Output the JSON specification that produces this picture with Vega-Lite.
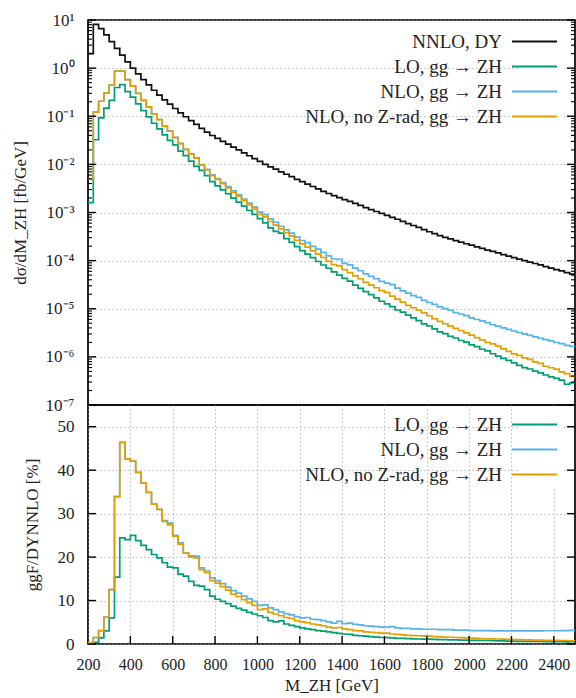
{
  "$schema": "https://vega.github.io/schema/vega-lite/v6.json",
  "padding": {"left": 10, "top": 10, "right": 0, "bottom": 2},
  "background": "white",
  "bounds": "flush",
  "config": {
    "font": "Liberation Serif",
    "view": {"stroke": "#000", "strokeWidth": 1.7},
    "axis": {
      "labelFont": "Liberation Serif", "titleFont": "Liberation Serif",
      "labelFontSize": 17, "titleFontSize": 17, "titleFontWeight": "normal",
      "labelColor": "#222", "titleColor": "#222", "domain": false,
      "ticks": false, "labelPadding": 14,
      "gridColor": "#999", "gridDash": [1, 3], "gridWidth": 1
    },
    "legend": {
      "labelFont": "Liberation Serif", "labelFontSize": 19, "labelColor": "#222",
      "symbolType": "M-1.8,0H1.8", "symbolSize": 625, "symbolStrokeWidth": 2,
      "labelAlign": "right", "labelOffset": -46, "labelLimit": 400,
      "rowPadding": 1, "padding": 2, "fillColor": "white", "title": null
    }
  },
  "datasets": {
    "ymaj": [{"t":1e-7},{"t":1e-6},{"t":1e-5},{"t":1e-4},{"t":1e-3},{"t":1e-2},{"t":0.1},{"t":1},{"t":10}],
    "ymin": [{"t":2e-7},{"t":3e-7},{"t":4e-7},{"t":5e-7},{"t":6e-7},{"t":7e-7},{"t":8e-7},{"t":9e-7},
             {"t":2e-6},{"t":3e-6},{"t":4e-6},{"t":5e-6},{"t":6e-6},{"t":7e-6},{"t":8e-6},{"t":9e-6},
             {"t":2e-5},{"t":3e-5},{"t":4e-5},{"t":5e-5},{"t":6e-5},{"t":7e-5},{"t":8e-5},{"t":9e-5},
             {"t":2e-4},{"t":3e-4},{"t":4e-4},{"t":5e-4},{"t":6e-4},{"t":7e-4},{"t":8e-4},{"t":9e-4},
             {"t":0.002},{"t":0.003},{"t":0.004},{"t":0.005},{"t":0.006},{"t":0.007},{"t":0.008},{"t":0.009},
             {"t":0.02},{"t":0.03},{"t":0.04},{"t":0.05},{"t":0.06},{"t":0.07},{"t":0.08},{"t":0.09},
             {"t":0.2},{"t":0.3},{"t":0.4},{"t":0.5},{"t":0.6},{"t":0.7},{"t":0.8},{"t":0.9},
             {"t":2},{"t":3},{"t":4},{"t":5},{"t":6},{"t":7},{"t":8},{"t":9}],
    "pmaj": [{"t":0},{"t":10},{"t":20},{"t":30},{"t":40},{"t":50}],
    "xmaj": [{"t":400},{"t":600},{"t":800},{"t":1000},{"t":1200},{"t":1400},{"t":1600},{"t":1800},{"t":2000},{"t":2200},{"t":2400}],
    "d": [
      {"m":200,"dy":2.0,"lo":0.0016,"nlo":0.005,"nz":0.005,"rlo":0.08,"rnlo":0.25,"rnz":0.25},
      {"m":225,"dy":8.13,"lo":0.0325,"nlo":0.122,"nz":0.122,"rlo":0.4,"rnlo":1.5,"rnz":1.5},
      {"m":250,"dy":6.61,"lo":0.0925,"nlo":0.205,"nz":0.205,"rlo":1.4,"rnlo":3.1,"rnz":3.1},
      {"m":275,"dy":4.90,"lo":0.147,"nlo":0.304,"nz":0.304,"rlo":3.0,"rnlo":6.2,"rnz":6.2},
      {"m":300,"dy":3.55,"lo":0.213,"nlo":0.444,"nz":0.444,"rlo":6.0,"rnlo":12.5,"rnz":12.5},
      {"m":325,"dy":2.57,"lo":0.396,"nlo":0.871,"nz":0.871,"rlo":15.4,"rnlo":33.9,"rnz":33.9},
      {"m":350,"dy":1.86,"lo":0.454,"nlo":0.863,"nz":0.863,"rlo":24.4,"rnlo":46.4,"rnz":46.4},
      {"m":375,"dy":1.35,"lo":0.324,"nlo":0.575,"nz":0.575,"rlo":24.0,"rnlo":42.6,"rnz":42.6},
      {"m":400,"dy":1.00,"lo":0.250,"nlo":0.421,"nz":0.421,"rlo":25.0,"rnlo":42.1,"rnz":42.1},
      {"m":425,"dy":0.759,"lo":0.181,"nlo":0.300,"nz":0.300,"rlo":23.8,"rnlo":39.5,"rnz":39.5},
      {"m":450,"dy":0.575,"lo":0.131,"nlo":0.213,"nz":0.213,"rlo":22.7,"rnlo":37.0,"rnz":37.0},
      {"m":475,"dy":0.447,"lo":0.0970,"nlo":0.156,"nz":0.156,"rlo":21.7,"rnlo":34.9,"rnz":34.9},
      {"m":500,"dy":0.347,"lo":0.0715,"nlo":0.112,"nz":0.112,"rlo":20.6,"rnlo":32.2,"rnz":32.2},
      {"m":525,"dy":0.275,"lo":0.0545,"nlo":0.0853,"nz":0.0853,"rlo":19.8,"rnlo":31.0,"rnz":31.0},
      {"m":550,"dy":0.219,"lo":0.0410,"nlo":0.0622,"nz":0.0618,"rlo":18.7,"rnlo":28.4,"rnz":28.2},
      {"m":575,"dy":0.178,"lo":0.0315,"nlo":0.0495,"nz":0.0488,"rlo":17.7,"rnlo":27.8,"rnz":27.4},
      {"m":600,"dy":0.145,"lo":0.0254,"nlo":0.0363,"nz":0.0360,"rlo":17.5,"rnlo":25.0,"rnz":24.8},
      {"m":625,"dy":0.117,"lo":0.0188,"nlo":0.0273,"nz":0.0269,"rlo":16.1,"rnlo":23.3,"rnz":23.0},
      {"m":650,"dy":0.0977,"lo":0.0152,"nlo":0.0205,"nz":0.0204,"rlo":15.6,"rnlo":21.0,"rnz":20.9},
      {"m":675,"dy":0.0813,"lo":0.0117,"nlo":0.0165,"nz":0.0163,"rlo":14.4,"rnlo":20.3,"rnz":20.0},
      {"m":700,"dy":0.0676,"lo":0.00913,"nlo":0.0137,"nz":0.0134,"rlo":13.5,"rnlo":20.2,"rnz":19.8},
      {"m":725,"dy":0.0562,"lo":0.00747,"nlo":0.00984,"nz":0.00961,"rlo":13.3,"rnlo":17.5,"rnz":17.1},
      {"m":750,"dy":0.0468,"lo":0.00585,"nlo":0.00786,"nz":0.00768,"rlo":12.5,"rnlo":16.8,"rnz":16.4},
      {"m":775,"dy":0.0398,"lo":0.00438,"nlo":0.00605,"nz":0.00581,"rlo":11.0,"rnlo":15.2,"rnz":14.6},
      {"m":800,"dy":0.0347,"lo":0.00357,"nlo":0.00507,"nz":0.00486,"rlo":10.3,"rnlo":14.6,"rnz":14.0},
      {"m":825,"dy":0.0302,"lo":0.00296,"nlo":0.00420,"nz":0.00399,"rlo":9.8,"rnlo":13.9,"rnz":13.2},
      {"m":850,"dy":0.0263,"lo":0.00245,"nlo":0.00345,"nz":0.00326,"rlo":9.3,"rnlo":13.1,"rnz":12.4},
      {"m":875,"dy":0.0229,"lo":0.00199,"nlo":0.00282,"nz":0.00263,"rlo":8.7,"rnlo":12.3,"rnz":11.5},
      {"m":900,"dy":0.0200,"lo":0.00164,"nlo":0.00234,"nz":0.00218,"rlo":8.2,"rnlo":11.7,"rnz":10.9},
      {"m":925,"dy":0.0174,"lo":0.00136,"nlo":0.00191,"nz":0.00177,"rlo":7.8,"rnlo":11.0,"rnz":10.2},
      {"m":950,"dy":0.0151,"lo":0.00110,"nlo":0.00157,"nz":0.00143,"rlo":7.3,"rnlo":10.4,"rnz":9.5},
      {"m":975,"dy":0.0132,"lo":0.000911,"nlo":0.00129,"nz":0.00117,"rlo":6.9,"rnlo":9.8,"rnz":8.9},
      {"m":1000,"dy":0.0115,"lo":0.000748,"nlo":0.00102,"nz":0.000909,"rlo":6.5,"rnlo":8.9,"rnz":7.9},
      {"m":1025,"dy":0.0100,"lo":0.000610,"nlo":0.000900,"nz":0.000810,"rlo":6.1,"rnlo":9.0,"rnz":8.1},
      {"m":1050,"dy":0.00891,"lo":0.000481,"nlo":0.000740,"nz":0.000650,"rlo":5.4,"rnlo":8.3,"rnz":7.3},
      {"m":1075,"dy":0.00794,"lo":0.000405,"nlo":0.000627,"nz":0.000548,"rlo":5.1,"rnlo":7.9,"rnz":6.9},
      {"m":1100,"dy":0.00700,"lo":0.000371,"nlo":0.000518,"nz":0.000455,"rlo":5.3,"rnlo":7.4,"rnz":6.5},
      {"m":1125,"dy":0.00624,"lo":0.000287,"nlo":0.000437,"nz":0.000381,"rlo":4.6,"rnlo":7.0,"rnz":6.1},
      {"m":1150,"dy":0.00556,"lo":0.000239,"nlo":0.000373,"nz":0.000328,"rlo":4.3,"rnlo":6.7,"rnz":5.9},
      {"m":1175,"dy":0.00490,"lo":0.000196,"nlo":0.000309,"nz":0.000265,"rlo":4.0,"rnlo":6.3,"rnz":5.4},
      {"m":1200,"dy":0.00437,"lo":0.000162,"nlo":0.000262,"nz":0.000223,"rlo":3.7,"rnlo":6.0,"rnz":5.1},
      {"m":1225,"dy":0.00389,"lo":0.000136,"nlo":0.000237,"nz":0.000191,"rlo":3.5,"rnlo":6.1,"rnz":4.9},
      {"m":1250,"dy":0.00347,"lo":0.000115,"nlo":0.000198,"nz":0.000160,"rlo":3.3,"rnlo":5.7,"rnz":4.6},
      {"m":1275,"dy":0.00309,"lo":0.0000958,"nlo":0.000173,"nz":0.000136,"rlo":3.1,"rnlo":5.6,"rnz":4.4},
      {"m":1300,"dy":0.00275,"lo":0.0000811,"nlo":0.000149,"nz":0.000116,"rlo":2.95,"rnlo":5.4,"rnz":4.2},
      {"m":1325,"dy":0.00248,"lo":0.0000694,"nlo":0.000126,"nz":0.0000967,"rlo":2.8,"rnlo":5.1,"rnz":3.9},
      {"m":1350,"dy":0.00224,"lo":0.0000582,"nlo":0.000108,"nz":0.0000829,"rlo":2.6,"rnlo":4.8,"rnz":3.7},
      {"m":1375,"dy":0.00204,"lo":0.0000500,"nlo":0.000106,"nz":0.0000775,"rlo":2.45,"rnlo":5.2,"rnz":3.8},
      {"m":1400,"dy":0.00186,"lo":0.0000428,"nlo":0.0000874,"nz":0.0000651,"rlo":2.3,"rnlo":4.7,"rnz":3.5},
      {"m":1425,"dy":0.00170,"lo":0.0000374,"nlo":0.0000816,"nz":0.0000561,"rlo":2.2,"rnlo":4.8,"rnz":3.3},
      {"m":1450,"dy":0.00155,"lo":0.0000310,"nlo":0.0000698,"nz":0.0000481,"rlo":2.0,"rnlo":4.5,"rnz":3.1},
      {"m":1475,"dy":0.00140,"lo":0.0000266,"nlo":0.0000616,"nz":0.0000420,"rlo":1.9,"rnlo":4.4,"rnz":3.0},
      {"m":1500,"dy":0.00126,"lo":0.0000227,"nlo":0.0000529,"nz":0.0000353,"rlo":1.8,"rnlo":4.2,"rnz":2.8},
      {"m":1525,"dy":0.00115,"lo":0.0000196,"nlo":0.0000472,"nz":0.0000311,"rlo":1.7,"rnlo":4.1,"rnz":2.7},
      {"m":1550,"dy":0.00105,"lo":0.0000168,"nlo":0.0000420,"nz":0.0000273,"rlo":1.6,"rnlo":4.0,"rnz":2.6},
      {"m":1575,"dy":0.000955,"lo":0.0000143,"nlo":0.0000372,"nz":0.0000239,"rlo":1.5,"rnlo":3.9,"rnz":2.5},
      {"m":1600,"dy":0.000871,"lo":0.0000126,"nlo":0.0000340,"nz":0.0000218,"rlo":1.45,"rnlo":3.9,"rnz":2.5},
      {"m":1625,"dy":0.000794,"lo":0.0000111,"nlo":0.0000318,"nz":0.0000183,"rlo":1.4,"rnlo":4.0,"rnz":2.3},
      {"m":1650,"dy":0.000724,"lo":0.00000941,"nlo":0.0000268,"nz":0.0000159,"rlo":1.3,"rnlo":3.7,"rnz":2.2},
      {"m":1675,"dy":0.000653,"lo":0.00000849,"nlo":0.0000235,"nz":0.0000137,"rlo":1.3,"rnlo":3.6,"rnz":2.1},
      {"m":1700,"dy":0.000589,"lo":0.00000736,"nlo":0.0000212,"nz":0.0000118,"rlo":1.25,"rnlo":3.6,"rnz":2.0},
      {"m":1725,"dy":0.000537,"lo":0.00000644,"nlo":0.0000188,"nz":0.0000105,"rlo":1.2,"rnlo":3.5,"rnz":1.95},
      {"m":1750,"dy":0.000490,"lo":0.00000564,"nlo":0.0000172,"nz":0.00000931,"rlo":1.15,"rnlo":3.5,"rnz":1.9},
      {"m":1775,"dy":0.000442,"lo":0.00000486,"nlo":0.0000150,"nz":0.00000818,"rlo":1.1,"rnlo":3.4,"rnz":1.85},
      {"m":1800,"dy":0.000398,"lo":0.00000438,"nlo":0.0000135,"nz":0.00000716,"rlo":1.1,"rnlo":3.4,"rnz":1.8},
      {"m":1825,"dy":0.000363,"lo":0.00000381,"nlo":0.0000123,"nz":0.00000617,"rlo":1.05,"rnlo":3.4,"rnz":1.7},
      {"m":1850,"dy":0.000331,"lo":0.00000331,"nlo":0.0000109,"nz":0.00000546,"rlo":1.0,"rnlo":3.3,"rnz":1.65},
      {"m":1875,"dy":0.000305,"lo":0.00000305,"nlo":0.0000101,"nz":0.00000488,"rlo":1.0,"rnlo":3.3,"rnz":1.6},
      {"m":1900,"dy":0.000282,"lo":0.00000268,"nlo":0.00000931,"nz":0.00000437,"rlo":0.95,"rnlo":3.3,"rnz":1.55},
      {"m":1925,"dy":0.000260,"lo":0.00000247,"nlo":0.00000832,"nz":0.00000390,"rlo":0.95,"rnlo":3.2,"rnz":1.5},
      {"m":1950,"dy":0.000243,"lo":0.00000219,"nlo":0.00000778,"nz":0.00000352,"rlo":0.9,"rnlo":3.2,"rnz":1.45},
      {"m":1975,"dy":0.000224,"lo":0.00000202,"nlo":0.00000717,"nz":0.00000314,"rlo":0.9,"rnlo":3.2,"rnz":1.4},
      {"m":2000,"dy":0.000209,"lo":0.00000178,"nlo":0.00000648,"nz":0.00000282,"rlo":0.85,"rnlo":3.1,"rnz":1.35},
      {"m":2025,"dy":0.000193,"lo":0.00000164,"nlo":0.00000598,"nz":0.00000251,"rlo":0.85,"rnlo":3.1,"rnz":1.3},
      {"m":2050,"dy":0.000180,"lo":0.00000144,"nlo":0.00000558,"nz":0.00000225,"rlo":0.8,"rnlo":3.1,"rnz":1.25},
      {"m":2075,"dy":0.000166,"lo":0.00000133,"nlo":0.00000515,"nz":0.00000199,"rlo":0.8,"rnlo":3.1,"rnz":1.2},
      {"m":2100,"dy":0.000155,"lo":0.00000116,"nlo":0.00000465,"nz":0.00000186,"rlo":0.75,"rnlo":3.0,"rnz":1.2},
      {"m":2125,"dy":0.000145,"lo":0.00000104,"nlo":0.00000435,"nz":0.00000167,"rlo":0.72,"rnlo":3.0,"rnz":1.15},
      {"m":2150,"dy":0.000133,"lo":0.000000931,"nlo":0.00000399,"nz":0.00000146,"rlo":0.7,"rnlo":3.0,"rnz":1.1},
      {"m":2175,"dy":0.000124,"lo":0.000000843,"nlo":0.00000372,"nz":0.00000130,"rlo":0.68,"rnlo":3.0,"rnz":1.05},
      {"m":2200,"dy":0.000115,"lo":0.000000748,"nlo":0.00000345,"nz":0.00000115,"rlo":0.65,"rnlo":3.0,"rnz":1.0},
      {"m":2225,"dy":0.000107,"lo":0.000000663,"nlo":0.00000321,"nz":0.00000107,"rlo":0.62,"rnlo":3.0,"rnz":1.0},
      {"m":2250,"dy":0.000100,"lo":0.000000600,"nlo":0.00000300,"nz":0.000000950,"rlo":0.6,"rnlo":3.0,"rnz":0.95},
      {"m":2275,"dy":0.0000933,"lo":0.000000560,"nlo":0.00000280,"nz":0.000000886,"rlo":0.6,"rnlo":3.0,"rnz":0.95},
      {"m":2300,"dy":0.0000871,"lo":0.000000505,"nlo":0.00000261,"nz":0.000000784,"rlo":0.58,"rnlo":3.0,"rnz":0.9},
      {"m":2325,"dy":0.0000813,"lo":0.000000463,"nlo":0.00000244,"nz":0.000000732,"rlo":0.57,"rnlo":3.0,"rnz":0.9},
      {"m":2350,"dy":0.0000750,"lo":0.000000420,"nlo":0.00000229,"nz":0.000000638,"rlo":0.56,"rnlo":3.05,"rnz":0.85},
      {"m":2375,"dy":0.0000700,"lo":0.000000385,"nlo":0.00000214,"nz":0.000000595,"rlo":0.55,"rnlo":3.05,"rnz":0.85},
      {"m":2400,"dy":0.0000653,"lo":0.000000359,"nlo":0.00000199,"nz":0.000000555,"rlo":0.55,"rnlo":3.05,"rnz":0.85},
      {"m":2425,"dy":0.0000610,"lo":0.000000329,"nlo":0.00000189,"nz":0.000000488,"rlo":0.54,"rnlo":3.1,"rnz":0.8},
      {"m":2450,"dy":0.0000562,"lo":0.000000270,"nlo":0.00000174,"nz":0.000000450,"rlo":0.48,"rnlo":3.1,"rnz":0.8},
      {"m":2475,"dy":0.0000525,"lo":0.000000289,"nlo":0.00000165,"nz":0.000000394,"rlo":0.55,"rnlo":3.15,"rnz":0.75},
      {"m":2500,"dy":0.0000525,"lo":0.000000289,"nlo":0.00000165,"nz":0.000000394,"rlo":0.55,"rnlo":3.15,"rnz":0.75}
    ]
  },
  "spacing": 0,
  "resolve": {"scale": {"x": "independent", "y": "independent", "color": "independent"}, "legend": {"color": "independent"}},
  "vconcat": [
    {
      "width": 487, "height": 385,
      "layer": [
        {
          "data": {"name": "d"},
          "transform": [{"fold": ["dy", "lo", "nlo", "nz"], "as": ["s", "v"]}],
          "mark": {"type": "line", "interpolate": "step-after", "strokeWidth": 1.7, "clip": true},
          "encoding": {
            "x": {"field": "m", "type": "quantitative", "scale": {"domain": [200, 2500], "nice": false, "zero": false},
                  "axis": {"labels": false, "title": null, "grid": false}},
            "y": {"field": "v", "type": "quantitative", "scale": {"type": "log", "domain": [1e-7, 10], "nice": false},
                  "axis": {"orient": "left", "values": [1e-7, 1e-6, 1e-5, 1e-4, 1e-3, 1e-2, 1e-1, 1, 10], "grid": true,
                           "title": "dσ/dM_ZH [fb/GeV]", "titlePadding": 16,
                           "labelExpr": "datum.value >= 5 ? '10¹' : datum.value >= 0.5 ? '10⁰' : datum.value >= 0.05 ? '10⁻¹' : datum.value >= 0.005 ? '10⁻²' : datum.value >= 0.0005 ? '10⁻³' : datum.value >= 0.00005 ? '10⁻⁴' : datum.value >= 0.000005 ? '10⁻⁵' : datum.value >= 0.0000005 ? '10⁻⁶' : '10⁻⁷'"}},
            "color": {"field": "s", "type": "nominal",
                      "scale": {"domain": ["dy", "lo", "nlo", "nz"], "range": ["#111111", "#009e73", "#56b4e9", "#e69f00"]},
                      "legend": {"orient": "none", "legendX": 431, "legendY": 6,
                                 "labelExpr": "datum.label == 'dy' ? 'NNLO, DY' : datum.label == 'lo' ? 'LO, gg → ZH' : datum.label == 'nlo' ? 'NLO, gg → ZH' : 'NLO, no Z-rad, gg → ZH'"}}
          }
        },
        {
          "data": {"name": "ymaj"},
          "mark": {"type": "tick", "orient": "horizontal", "color": "#000000", "size": 8, "thickness": 1.4, "opacity": 1},
          "encoding": {"y": {"field": "t", "type": "quantitative"}, "x": {"datum": 219, "type": "quantitative"}}
        },
        {
          "data": {"name": "ymin"},
          "mark": {"type": "tick", "orient": "horizontal", "color": "#000000", "size": 4, "thickness": 1.1, "opacity": 1},
          "encoding": {"y": {"field": "t", "type": "quantitative"}, "x": {"datum": 209.5, "type": "quantitative"}}
        },
        {
          "data": {"name": "ymaj"},
          "mark": {"type": "tick", "orient": "horizontal", "color": "#000000", "size": 8, "thickness": 1.4, "opacity": 1},
          "encoding": {"y": {"field": "t", "type": "quantitative"}, "x": {"datum": 2481, "type": "quantitative"}}
        },
        {
          "data": {"name": "ymin"},
          "mark": {"type": "tick", "orient": "horizontal", "color": "#000000", "size": 4, "thickness": 1.1, "opacity": 1},
          "encoding": {"y": {"field": "t", "type": "quantitative"}, "x": {"datum": 2490.5, "type": "quantitative"}}
        }
      ]
    },
    {
      "width": 487, "height": 239,
      "layer": [
        {
          "data": {"name": "d"},
          "transform": [{"fold": ["rlo", "rnlo", "rnz"], "as": ["s", "v"]}],
          "mark": {"type": "line", "interpolate": "step-after", "strokeWidth": 1.7, "clip": true},
          "encoding": {
            "x": {"field": "m", "type": "quantitative", "scale": {"domain": [200, 2500], "nice": false, "zero": false},
                  "axis": {"values": [200,400,600,800,1000,1200,1400,1600,1800,2000,2200,2400], "grid": true, "format": "d",
                           "title": "M_ZH [GeV]", "labelPadding": 12, "titlePadding": 5, "labelFlush": false, "labelFontSize": 16}},
            "y": {"field": "v", "type": "quantitative", "scale": {"domain": [0, 55], "nice": false},
                  "axis": {"orient": "left", "values": [0, 10, 20, 30, 40, 50], "grid": true,
                           "title": "ggF/DYNNLO [%]", "titlePadding": 16}},
            "color": {"field": "s", "type": "nominal",
                      "scale": {"domain": ["rlo", "rnlo", "rnz"], "range": ["#009e73", "#56b4e9", "#e69f00"]},
                      "legend": {"orient": "none", "legendX": 431, "legendY": 4,
                                 "labelExpr": "datum.label == 'rlo' ? 'LO, gg → ZH' : datum.label == 'rnlo' ? 'NLO, gg → ZH' : 'NLO, no Z-rad, gg → ZH'"}}
          }
        },
        {
          "data": {"name": "pmaj"},
          "mark": {"type": "tick", "orient": "horizontal", "color": "#000000", "size": 8, "thickness": 1.4, "opacity": 1},
          "encoding": {"y": {"field": "t", "type": "quantitative"}, "x": {"datum": 219, "type": "quantitative"}}
        },
        {
          "data": {"name": "pmaj"},
          "mark": {"type": "tick", "orient": "horizontal", "color": "#000000", "size": 8, "thickness": 1.4, "opacity": 1},
          "encoding": {"y": {"field": "t", "type": "quantitative"}, "x": {"datum": 2481, "type": "quantitative"}}
        },
        {
          "data": {"name": "xmaj"},
          "mark": {"type": "tick", "orient": "vertical", "color": "#000000", "size": 8, "thickness": 1.4, "opacity": 1},
          "encoding": {"x": {"field": "t", "type": "quantitative"}, "y": {"datum": 0.92, "type": "quantitative"}}
        }
      ]
    }
  ]
}
